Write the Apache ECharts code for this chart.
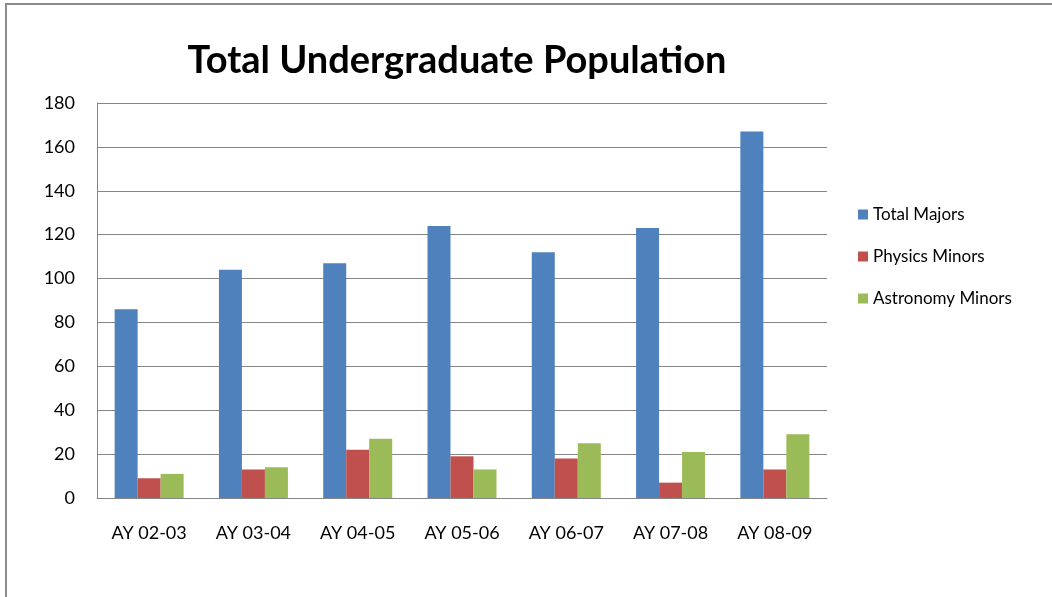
<!DOCTYPE html>
<html>
<head>
<meta charset="utf-8">
<script src="https://cdn.jsdelivr.net/npm/echarts@6/dist/echarts.min.js"></script>
<style>
  html, body { margin: 0; padding: 0; background: #fff; }
  #main { width: 1052px; height: 597px; }
</style>
</head>
<body>
<div id="main"></div>
<script>
// data
var years = ["AY 02-03", "AY 03-04", "AY 04-05", "AY 05-06", "AY 06-07", "AY 07-08", "AY 08-09"];
var totalMajors = [86, 104, 107, 124, 112, 123, 167];
var physicsMinors = [9, 13, 22, 19, 18, 7, 13];
var astronomyMinors = [11, 14, 27, 13, 25, 21, 29];
var yTicks = [0, 20, 40, 60, 80, 100, 120, 140, 160, 180];

var font = "Lato, 'Open Sans', sans-serif";

var myChart = echarts.init(document.getElementById("main"));

var option = {
  animation: false,
  backgroundColor: "#fff",
  title: {
    text: "Total Undergraduate Population",
    left: 452,
    textAlign: "center",
    top: 37,
    textStyle: {
      fontFamily: font,
      fontSize: 38,
      fontWeight: "bold",
      color: "#000"
    }
  },
  legend: {
    orient: "vertical",
    left: 853,
    top: 201,
    itemGap: 25,
    itemWidth: 10,
    itemHeight: 10,
    icon: "rect",
    textStyle: { fontFamily: font, fontSize: 17, color: "#000" },
    data: ["Total Majors", "Physics Minors", "Astronomy Minors"]
  },
  grid: {
    left: 97,
    top: 103,
    width: 730,
    height: 395,
    containLabel: false
  },
  xAxis: {
    type: "category",
    data: years,
    axisLine: { lineStyle: { color: "#868686", width: 1 } },
    axisTick: { show: false },
    axisLabel: { fontFamily: font, fontSize: 18, color: "#000", margin: 26 }
  },
  yAxis: {
    type: "value",
    min: yTicks[0],
    max: yTicks[yTicks.length - 1],
    interval: 20,
    axisLine: { show: true, lineStyle: { color: "#868686", width: 1 } },
    axisTick: { show: false },
    axisLabel: { fontFamily: font, fontSize: 18, color: "#000", margin: 22 },
    splitLine: { lineStyle: { color: "#868686", width: 1 } }
  },
  series: [
    {
      name: "Total Majors",
      type: "bar",
      data: totalMajors,
      barWidth: 23,
      barGap: "0%",
      itemStyle: { color: "#4f81bd" }
    },
    {
      name: "Physics Minors",
      type: "bar",
      data: physicsMinors,
      barWidth: 23,
      barGap: "0%",
      itemStyle: { color: "#c0504d" }
    },
    {
      name: "Astronomy Minors",
      type: "bar",
      data: astronomyMinors,
      barWidth: 23,
      barGap: "0%",
      itemStyle: { color: "#9bbb59" }
    }
  ],
  graphic: [
    {
      type: "polyline",
      shape: { points: [[6, 597], [6, 4], [1052, 4]] },
      style: { stroke: "#8c8c8c", lineWidth: 2, fill: null }
    }
  ]
};

myChart.setOption(option);
</script>
</body>
</html>
